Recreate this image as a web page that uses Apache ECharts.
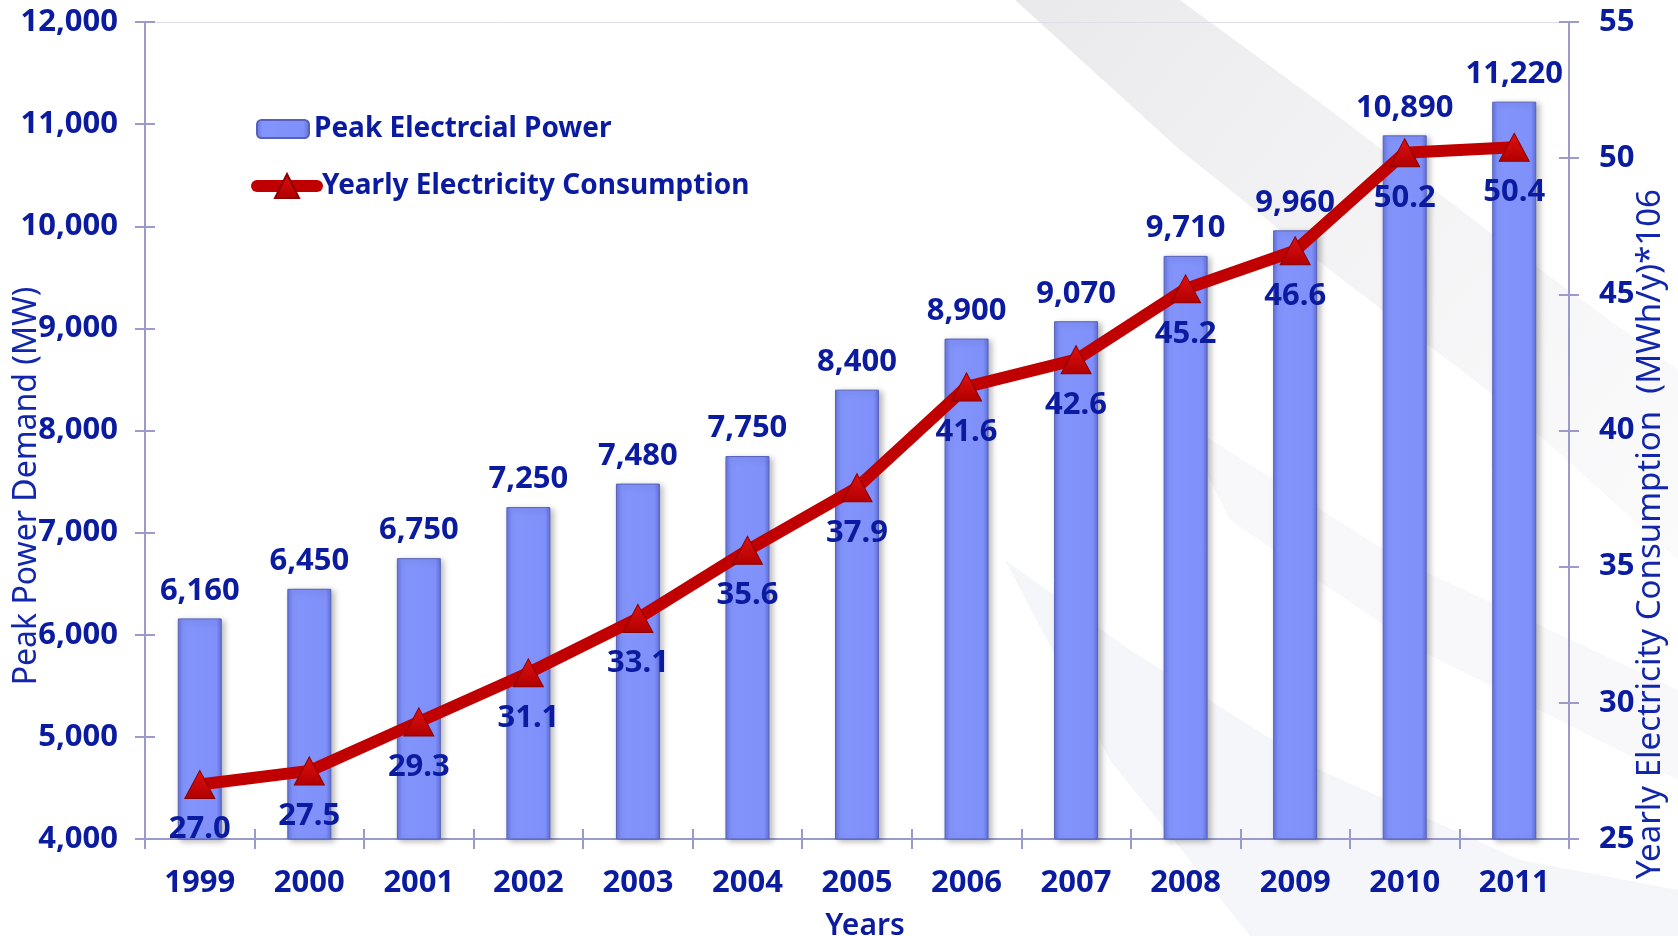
<!DOCTYPE html>
<html>
<head>
<meta charset="utf-8">
<title>Peak Power Demand and Yearly Electricity Consumption</title>
<script src="https://cdn.jsdelivr.net/npm/echarts@6/dist/echarts.min.js"></script>
<style>
    html, body { margin: 0; padding: 0; background: #ffffff; }
    #chart { width: 1678px; height: 936px; }
</style>
</head>
<body>
<div id="chart"></div>
<script>
// Values
const years = ['1999', '2000', '2001', '2002', '2003', '2004', '2005', '2006', '2007', '2008', '2009', '2010', '2011'];
const peakPower = [6160, 6450, 6750, 7250, 7480, 7750, 8400, 8900, 9070, 9710, 9960, 10890, 11220];
const yearlyConsumption = [27.0, 27.5, 29.3, 31.1, 33.1, 35.6, 37.9, 41.6, 42.6, 45.2, 46.6, 50.2, 50.4];

const TEXT = '#0b1ba0';
const AXIS = '#9a9acb';
const FONT = '"Noto Sans", "DejaVu Sans", sans-serif';

const chart = echarts.init(document.getElementById('chart'));

const labelStyle = { color: TEXT, fontFamily: FONT, fontWeight: 'bold', fontSize: 31 };
const legendText = { color: TEXT, fontFamily: FONT, fontWeight: 'bold', fontSize: 28 };

// ECharts has no "cross" tick, so a second copy of each axis draws the inside half.
const tickOnlyY = (min, max, interval, position) => ({
    type: 'value', min, max, interval, position,
    axisLine: { show: false }, axisLabel: { show: false }, splitLine: { show: false },
    axisTick: { show: true, inside: true, length: 10, lineStyle: { color: AXIS, width: 2 } },
});

chart.setOption({
    backgroundColor: '#ffffff',
    animation: false,
    graphic: [
        // faint background swooshes of the slide template
        {
            type: 'polygon', z: -10, silent: true,
            shape: { points: [[1015, 0], [1180, 0], [1330, 110], [1500, 240], [1678, 370], [1678, 560], [1500, 400], [1330, 270], [1180, 150]] },
            style: { fill: new echarts.graphic.LinearGradient(0, 0, 1, 1, [
                { offset: 0, color: 'rgba(200,200,205,0.40)' },
                { offset: 1, color: 'rgba(225,225,232,0.15)' },
            ]) },
        },
        {
            type: 'polygon', z: -10, silent: true,
            shape: { points: [[1005, 560], [1130, 650], [1320, 770], [1520, 860], [1678, 890], [1678, 936], [1250, 936], [1110, 760]] },
            style: { fill: 'rgba(215,218,230,0.25)' },
        },
        {
            type: 'polygon', z: -10, silent: true,
            shape: { points: [[1180, 420], [1400, 560], [1678, 690], [1678, 780], [1420, 650], [1230, 520]] },
            style: { fill: 'rgba(220,222,232,0.2)' },
        },
        // axis titles
        {
            type: 'text', z: 10, x: 865, y: 911,
            style: { text: 'Years', fill: TEXT, font: '600 30px ' + FONT, textAlign: 'center' },
        },
        {
            type: 'text', z: 10, rotation: Math.PI / 2, x: 27, y: 486,
            style: { text: 'Peak Power Demand (MW)', fill: '#1226ac', font: '32px ' + FONT, textAlign: 'center', textVerticalAlign: 'middle' },
        },
        {
            type: 'text', z: 10, rotation: Math.PI / 2, x: 1651, y: 534,
            style: { text: 'Yearly Electricity Consumption  (MWh/y)*106', fill: '#1226ac', font: '33px ' + FONT, textAlign: 'center', textVerticalAlign: 'middle' },
        },
    ],
    // two legends so the triangle marker can be larger than the bar swatch
    legend: [
        {
            orient: 'vertical',
            left: 251,
            top: 110,
            itemWidth: 52,
            itemHeight: 18,
            textStyle: legendText,
            data: ['Peak Electrcial Power'],
        },
        {
            orient: 'vertical',
            left: 246,
            top: 167,
            itemWidth: 60,
            itemHeight: 30,
            textStyle: legendText,
            data: [{ name: 'Yearly Electricity Consumption', lineStyle: { width: 12, cap: 'round' } }],
        },
    ],
    grid: { left: 145, right: 109, top: 22, bottom: 97, containLabel: false },
    xAxis: [
        {
            type: 'category',
            data: years,
            axisLine: { lineStyle: { color: AXIS, width: 2 } },
            axisTick: { show: true, length: 10, lineStyle: { color: AXIS, width: 2 } },
            axisLabel: Object.assign({ margin: 29 }, labelStyle),
        },
        {
            type: 'category', data: years, position: 'bottom',
            axisLine: { show: false }, axisLabel: { show: false },
            axisTick: { show: true, inside: true, length: 10, lineStyle: { color: AXIS, width: 2 } },
        },
        {
            type: 'category', data: years, position: 'top',
            axisLine: { lineStyle: { color: '#dedee6', width: 1 } },
            axisTick: { show: false }, axisLabel: { show: false },
        },
    ],
    yAxis: [
        {
            type: 'value', min: 4000, max: 12000, interval: 1000, position: 'left',
            axisLine: { show: true, lineStyle: { color: AXIS, width: 2 } },
            axisTick: { show: true, length: 10, lineStyle: { color: AXIS, width: 2 } },
            splitLine: { show: false },
            axisLabel: Object.assign({
                margin: 27,
                formatter: (v) => v.toLocaleString('en-US'),
            }, labelStyle),
        },
        {
            type: 'value', min: 25, max: 55, interval: 5, position: 'right',
            axisLine: { show: true, lineStyle: { color: AXIS, width: 2 } },
            axisTick: { show: true, length: 10, lineStyle: { color: AXIS, width: 2 } },
            splitLine: { show: false },
            axisLabel: Object.assign({ margin: 30 }, labelStyle),
        },
        tickOnlyY(4000, 12000, 1000, 'left'),
        tickOnlyY(25, 55, 5, 'right'),
    ],
    series: [
        {
            name: 'Peak Electrcial Power',
            type: 'bar',
            xAxisIndex: 0,
            yAxisIndex: 0,
            barWidth: 44,
            data: peakPower,
            itemStyle: {
                color: new echarts.graphic.LinearGradient(0, 0, 1, 0, [
                    { offset: 0, color: '#6474e0' },
                    { offset: 0.12, color: '#8394fc' },
                    { offset: 0.88, color: '#7f90fa' },
                    { offset: 1, color: '#606ed8' },
                ]),
                borderColor: '#5662b8',
                borderWidth: 1,
                shadowColor: 'rgba(0,0,0,0.28)',
                shadowBlur: 6,
                shadowOffsetX: 3,
                shadowOffsetY: 2,
            },
            label: Object.assign({
                show: true,
                position: 'top',
                distance: 12,
                formatter: (p) => p.value.toLocaleString('en-US'),
            }, labelStyle),
            z: 2,
        },
        {
            name: 'Yearly Electricity Consumption',
            type: 'line',
            xAxisIndex: 0,
            yAxisIndex: 1,
            data: yearlyConsumption,
            symbol: 'triangle',
            symbolSize: [30, 28],
            lineStyle: { color: '#c00000', width: 12 },
            itemStyle: {
                color: new echarts.graphic.LinearGradient(0, 0, 0, 1, [
                    { offset: 0, color: '#e01010' },
                    { offset: 1, color: '#b00000' },
                ]),
                borderColor: '#8a0000',
                borderWidth: 1,
            },
            label: Object.assign({
                show: true,
                position: 'bottom',
                distance: 15,
                formatter: (p) => p.value.toFixed(1),
            }, labelStyle),
            z: 5,
        },
    ],
});
</script>
</body>
</html>
